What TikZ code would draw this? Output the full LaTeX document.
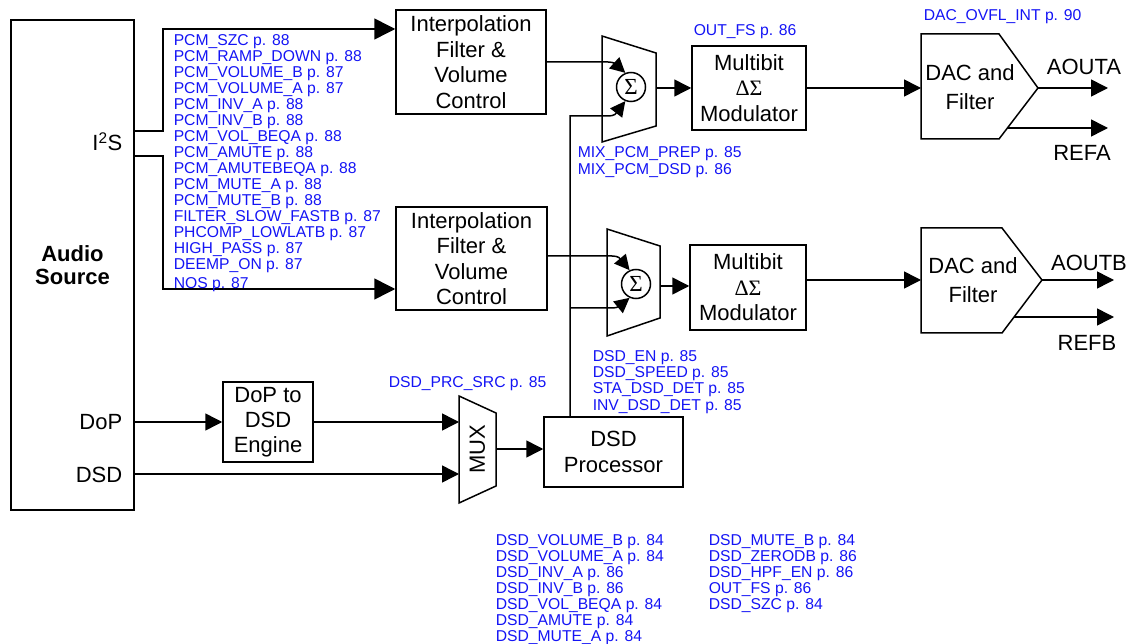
\documentclass[tikz,border=0pt]{standalone}
\usepackage{fontspec}
\setmainfont{Liberation Sans}
\newfontfamily\serifsym{Liberation Serif}
\usetikzlibrary{arrows.meta}
\definecolor{refblue}{RGB}{20,20,245}
\newcommand\blk{\fontsize{22}{25.5}\selectfont}
\newcommand\bluefnt{\fontsize{15.7}{16}\selectfont}
\begin{document}
\begin{tikzpicture}[x=1pt,y=-1pt,line width=1.5pt,
  box/.style={draw,inner sep=0pt,align=center,font=\blk},
  txt/.style={inner sep=0pt,font=\blk},
  bl/.style={inner sep=0pt,anchor=base west,font=\bluefnt,text=refblue},
  arr/.style={-{Triangle[length=17pt,width=17pt]}},
  bigarr/.style={-{Triangle[length=21pt,width=21pt]}},
  smarr/.style={-{Triangle[length=15pt,width=15pt]}},
  sum/.style={draw,circle,minimum size=29pt,inner sep=0pt,font=\serifsym\fontsize{23}{23}\selectfont}
]
\useasboundingbox (0,0) rectangle (1130,644);

% ---- blocks
\node[box,minimum width=123pt,minimum height=490pt,font=\fontsize{22}{23}\selectfont\bfseries] (src) at (72.5,265) {Audio\\Source};
\node[txt,anchor=base east] (i2s) at (123,151) {I\textsuperscript{2}S};
\node[txt,anchor=base east] (dop) at (123,429.5) {DoP};
\node[txt,anchor=base east] (dsd) at (123,482) {DSD};

\node[box,minimum width=150pt,minimum height=104pt] (ifA) at (471,62) {Interpolation\\Filter \&\\Volume\\Control};
\node[box,minimum width=151pt,minimum height=103pt] (ifB) at (471.5,258.5) {Interpolation\\Filter \&\\Volume\\Control};

\node[box,minimum width=114pt,minimum height=84pt] (mbA) at (749,88) {Multibit\\{\serifsym ΔΣ}\\Modulator};
\node[box,minimum width=116pt,minimum height=85pt] (mbB) at (748,287.5) {Multibit\\{\serifsym ΔΣ}\\Modulator};

\node[box,minimum width=90pt,minimum height=80pt,font=\fontsize{22}{25}\selectfont] (d2d) at (268,422) {DoP to\\DSD\\Engine};
\node[box,minimum width=139pt,minimum height=70pt,font=\fontsize{22}{26}\selectfont] (dsdp) at (613.5,452) {DSD\\Processor};

% mixers
\draw (602,36) -- (656,53) -- (656,126) -- (602,142) -- cycle;
\node[sum] (sumA) at (631,87) {Σ};
\draw (607,229) -- (660,246) -- (660,318) -- (607,336) -- cycle;
\node[sum] (sumB) at (636,284) {Σ};

% mux
\draw (459,396) -- (496,413) -- (496,486) -- (459,503) -- cycle;
\node[txt,rotate=90] (mux) at (477.5,449.5) {MUX};

% DACs
\draw (921,34) -- (999,34) -- (1038,88) -- (999,139) -- (921,139) -- cycle;
\node[txt,align=center,font=\fontsize{22}{29}\selectfont] (dacA) at (970,87.5) {DAC and\\Filter};
\draw (921,228) -- (1002,228) -- (1042,280) -- (1002,333) -- (921,333) -- cycle;
\node[txt,align=center,font=\fontsize{22}{29}\selectfont] (dacB) at (973,280) {DAC and\\Filter};

\node[txt,anchor=base] (aouta) at (1084,75) {AOUTA};
\node[txt,anchor=base] (refa) at (1082,161) {REFA};
\node[txt,anchor=base] (aoutb) at (1089,271) {AOUTB};
\node[txt,anchor=base] (refb) at (1087,351) {REFB};

% ---- coordinates
\coordinate (vtop) at (570,116);
\coordinate (vbr) at (570,308);
\coordinate (mixAout) at (656,88);
\coordinate (mixBout) at (660,286);
\coordinate (dacAin) at (921,88);
\coordinate (dacBin) at (921,280);
\coordinate (dacAtip) at (1038,88);
\coordinate (dacBtip) at (1042,280);
\coordinate (aoutAe) at (1108,88);
\coordinate (aoutBe) at (1114,280);
\coordinate (refAs) at (1008,128);
\coordinate (refAe) at (1108,128);
\coordinate (refBs) at (1014,317);
\coordinate (refBe) at (1114,317);
\coordinate (muxin1) at (459,422);
\coordinate (muxin2) at (459,474);
\coordinate (muxout) at (496,449);

% ---- connectors
\draw[bigarr] (src.east |- 0,131) -- (163,131) |- (ifA.west |- 0,29);
\draw[bigarr] (src.east |- 0,156) -- (163,156) |- (ifB.west |- 0,289);

% mixer inputs: horizontal run, short bend, straight final part carrying the tip
\draw (ifA.east |- 0,62) -- (608,62) .. controls (611,62) and (613,62.5) .. (615,63.5);
\draw[smarr] (615,63.5) -- (sumA.112);
\draw (dsdp.north -| vtop) -- (vtop) -- (608,116) .. controls (611,116) and (613,115.5) .. (615,114.5);
\draw[smarr] (615,114.5) -- (sumA.248);
\draw (ifB.east |- 0,256) -- (612,256) .. controls (615,256) and (617,256.5) .. (619,257.5);
\draw[smarr] (619,257.5) -- (sumB.115);
\draw (vbr) -- (612,308) .. controls (615,308) and (617,307.5) .. (619,306.5);
\draw[smarr] (619,306.5) -- (sumB.245);

\draw[arr] (mixAout) -- (mbA.west |- mixAout);
\draw[arr] (mixBout) -- (mbB.west |- mixBout);
\draw[arr] (mbA.east |- dacAin) -- (dacAin);
\draw[arr] (mbB.east |- dacBin) -- (dacBin);
\draw[arr] (dacAtip) -- (aoutAe);
\draw[arr] (refAs) -- (refAe);
\draw[arr] (dacBtip) -- (aoutBe);
\draw[arr] (refBs) -- (refBe);

\draw[arr] (src.east |- d2d.west) -- (d2d.west);
\draw[arr] (d2d.east) -- (muxin1);
\draw[arr] (src.east |- muxin2) -- (muxin2);
\draw[arr] (muxout) -- (dsdp.west |- muxout);

% ---- blue register labels
\foreach \t [count=\i from 0] in {PCM\_SZC p. 88, PCM\_RAMP\_DOWN p. 88, PCM\_VOLUME\_B p. 87, PCM\_VOLUME\_A p. 87, PCM\_INV\_A p. 88, PCM\_INV\_B p. 88, PCM\_VOL\_BEQA p. 88, PCM\_AMUTE p. 88, PCM\_AMUTEBEQA p. 88, PCM\_MUTE\_A p. 88, PCM\_MUTE\_B p. 88, FILTER\_SLOW\_FASTB p. 87, PHCOMP\_LOWLATB p. 87, HIGH\_PASS p. 87, DEEMP\_ON p. 87}
  \node[bl] (pcm\i) at (173,{45.5+16*\i}) {\t};
\node[bl] (nos) at (173,289) {NOS p. 87};

\node[bl] (mix1) at (577,158) {MIX\_PCM\_PREP p. 85};
\node[bl] (mix2) at (577,174.5) {MIX\_PCM\_DSD p. 86};
\node[bl] (outfs) at (693,35.5) {OUT\_FS p. 86};
\node[bl] (ovfl) at (923,20.5) {DAC\_OVFL\_INT p. 90};
\node[bl] (prcsrc) at (388,388) {DSD\_PRC\_SRC p. 85};

\foreach \t [count=\i from 0] in {DSD\_EN p. 85, DSD\_SPEED p. 85, STA\_DSD\_DET p. 85, INV\_DSD\_DET p. 85}
  \node[bl] (dsden\i) at (592,{361.5+16.2*\i}) {\t};

\foreach \t [count=\i from 0] in {DSD\_VOLUME\_B p. 84, DSD\_VOLUME\_A p. 84, DSD\_INV\_A p. 86, DSD\_INV\_B p. 86, DSD\_VOL\_BEQA p. 84, DSD\_AMUTE p. 84, DSD\_MUTE\_A p. 84}
  \node[bl] (dsdl\i) at (495,{545.5+16*\i}) {\t};
\foreach \t [count=\i from 0] in {DSD\_MUTE\_B p. 84, DSD\_ZERODB p. 86, DSD\_HPF\_EN p. 86, OUT\_FS p. 86, DSD\_SZC p. 84}
  \node[bl] (dsdr\i) at (708,{545.5+16*\i}) {\t};
\end{tikzpicture}
\end{document}
